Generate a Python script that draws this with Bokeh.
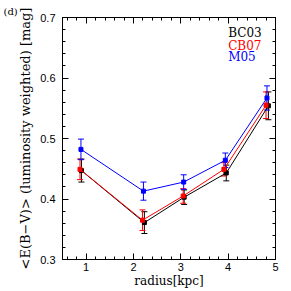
from bokeh.plotting import figure
from bokeh.models import (ColumnDataSource, Whisker, TeeHead, FixedTicker, LinearAxis,
                          Range1d, Label, CustomJSTickFormatter)
from bokeh.embed import file_html
from bokeh.resources import INLINE

# ---- data ----
bc03_x = [0.90, 2.23, 3.07, 3.96, 4.85]
bc03_y = [0.447, 0.361, 0.403, 0.443, 0.554]
bc03_e = [0.019, 0.018, 0.012, 0.013, 0.023]

cb07_x = [0.87, 2.19, 3.05, 3.91, 4.80]
cb07_y = [0.449, 0.365, 0.405, 0.449, 0.555]
cb07_e = [0.017, 0.017, 0.012, 0.011, 0.022]

m05_x = [0.89, 2.21, 3.06, 3.94, 4.82]
m05_y = [0.482, 0.413, 0.428, 0.464, 0.567]
m05_e = [0.017, 0.015, 0.012, 0.012, 0.020]

series_names = ["BC03", "CB07", "M05"]
series_colors = ["black", "#ff0000", "#0000ff"]

x_major = [1, 2, 3, 4, 5]
x_minor = [round(0.6 + 0.2 * i, 2) for i in range(23)]
y_major = [0.3, 0.4, 0.5, 0.6, 0.7]
y_minor = [round(0.3 + 0.02 * i, 2) for i in range(21)]

SERIF = "DejaVu Serif"
SANS = "Liberation Sans"

p = figure(width=290, height=290, output_backend="svg", toolbar_location=None,
           x_range=Range1d(0.5, 5.0), y_range=Range1d(0.3, 0.7),
           title="(d)",
           min_border_left=62, min_border_right=15, min_border_top=17, min_border_bottom=31)
p.title.text_font = SERIF
p.title.text_font_size = "10px"
p.title.text_font_style = "normal"
p.title.text_color = "black"
p.title.align = "left"
p.title.offset = -59
p.title.standoff = 2
p.grid.visible = False
p.outline_line_color = "black"
p.background_fill_color = "white"
p.border_fill_color = "white"

def style_axis(ax, ticks, minor, show_labels):
    ax.ticker = FixedTicker(ticks=ticks, minor_ticks=minor)
    ax.major_tick_in = 6
    ax.major_tick_out = 0
    ax.minor_tick_in = 3
    ax.minor_tick_out = 0
    ax.axis_line_color = "black"
    ax.major_tick_line_color = "black"
    ax.minor_tick_line_color = "black"
    if show_labels:
        ax.major_label_text_font = SANS
        ax.major_label_text_font_size = "11px"
        ax.major_label_text_color = "black"
    else:
        ax.formatter = CustomJSTickFormatter(code="return ''")
        ax.major_label_standoff = 0

xa = p.xaxis[0]
ya = p.yaxis[0]
style_axis(xa, x_major, x_minor, True)
style_axis(ya, y_major, y_minor, True)
xa.major_label_standoff = 3
ya.major_label_standoff = 7
xa.axis_label = "radius[kpc]"
ya.axis_label = "<E(B\u2212V)> (luminosity weighted) [mag]"
for ax in (xa, ya):
    ax.axis_label_text_font = SERIF
    ax.axis_label_text_font_style = "normal"
    ax.axis_label_text_color = "black"
xa.axis_label_text_font_size = "12px"
ya.axis_label_text_font_size = "13px"
xa.axis_label_standoff = 0
ya.axis_label_standoff = 4

top = LinearAxis()
style_axis(top, x_major, x_minor, False)
p.add_layout(top, "above")
right = LinearAxis()
style_axis(right, y_major, y_minor, False)
p.add_layout(right, "right")

all_x = [bc03_x, cb07_x, m05_x]
all_y = [bc03_y, cb07_y, m05_y]
all_e = [bc03_e, cb07_e, m05_e]

for xs, ys, es, name, col in zip(all_x, all_y, all_e, series_names, series_colors):
    src = ColumnDataSource(dict(x=xs, y=ys,
                                lo=[a - b for a, b in zip(ys, es)],
                                hi=[a + b for a, b in zip(ys, es)]))
    w = Whisker(base="x", upper="hi", lower="lo", source=src, dimension="height",
                line_color=col, line_width=1,
                upper_head=TeeHead(size=6, line_color=col, line_width=1),
                lower_head=TeeHead(size=6, line_color=col, line_width=1))
    p.add_layout(w)
    p.line("x", "y", source=src, line_color=col, line_width=1)
    p.scatter("x", "y", source=src, marker="square", size=4, fill_color=col, line_color=col)

legend_y = [0.6736, 0.6537, 0.634]
for name, col, ly in zip(series_names, series_colors, legend_y):
    p.add_layout(Label(x=4.0, y=ly, text=name, text_color=col, text_font=SERIF,
                       text_font_size="12px", text_baseline="alphabetic", text_align="left"))

open("out.html", "w").write(file_html(p, INLINE))
